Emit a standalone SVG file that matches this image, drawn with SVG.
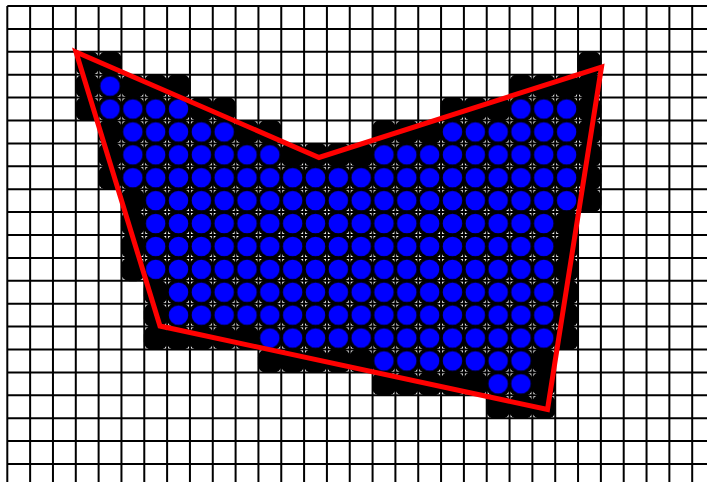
<svg xmlns="http://www.w3.org/2000/svg" xmlns:xlink="http://www.w3.org/1999/xlink" width="707" height="482" viewBox="0 0 707 482">
<style>
.grid{fill:none;stroke:#000;stroke-width:2;vector-effect:non-scaling-stroke}
.cell{fill:#000}
.hull{fill:none;stroke:#ff0000;stroke-width:5;stroke-linejoin:miter}
</style>
<defs>
<rect id="k" class="cell" x="-0.021" y="-0.021" width="1.042" height="1.042" rx="0.372" ry="0.372"/>
<pattern id="dots" patternUnits="userSpaceOnUse" x="0" y="0" width="1" height="1">
<circle cx="0.5" cy="0.5" r="0.452" fill="#0000ff" stroke="#000" stroke-width="0.05"/>
</pattern>
</defs>
<rect width="707" height="482" fill="#fff"/>
<g transform="translate(7.3,6) scale(22.83,22.9)">
<path id="grid" class="grid" d="M0 0V21M1 0V21M2 0V21M3 0V21M4 0V21M5 0V21M6 0V21M7 0V21M8 0V21M9 0V21M10 0V21M11 0V21M12 0V21M13 0V21M14 0V21M15 0V21M16 0V21M17 0V21M18 0V21M19 0V21M20 0V21M21 0V21M22 0V21M23 0V21M24 0V21M25 0V21M26 0V21M27 0V21M28 0V21M29 0V21M30 0V21M0 0H31M0 1H31M0 2H31M0 3H31M0 4H31M0 5H31M0 6H31M0 7H31M0 8H31M0 9H31M0 10H31M0 11H31M0 12H31M0 13H31M0 14H31M0 15H31M0 16H31M0 17H31M0 18H31M0 19H31M0 20H31"/>
<g id="cells">
<g transform="translate(0,2)"><use href="#k" x="3"/><use href="#k" x="4"/><use href="#k" x="25"/></g>
<g transform="translate(0,3)"><use href="#k" x="3"/><use href="#k" x="4"/><use href="#k" x="5"/><use href="#k" x="6"/><use href="#k" x="7"/><use href="#k" x="22"/><use href="#k" x="23"/><use href="#k" x="24"/><use href="#k" x="25"/></g>
<g transform="translate(0,4)"><use href="#k" x="3"/><use href="#k" x="4"/><use href="#k" x="5"/><use href="#k" x="6"/><use href="#k" x="7"/><use href="#k" x="8"/><use href="#k" x="9"/><use href="#k" x="19"/><use href="#k" x="20"/><use href="#k" x="21"/><use href="#k" x="22"/><use href="#k" x="23"/><use href="#k" x="24"/><use href="#k" x="25"/></g>
<g transform="translate(0,5)"><use href="#k" x="4"/><use href="#k" x="5"/><use href="#k" x="6"/><use href="#k" x="7"/><use href="#k" x="8"/><use href="#k" x="9"/><use href="#k" x="10"/><use href="#k" x="11"/><use href="#k" x="16"/><use href="#k" x="17"/><use href="#k" x="18"/><use href="#k" x="19"/><use href="#k" x="20"/><use href="#k" x="21"/><use href="#k" x="22"/><use href="#k" x="23"/><use href="#k" x="24"/><use href="#k" x="25"/></g>
<g transform="translate(0,6)"><use href="#k" x="4"/><use href="#k" x="5"/><use href="#k" x="6"/><use href="#k" x="7"/><use href="#k" x="8"/><use href="#k" x="9"/><use href="#k" x="10"/><use href="#k" x="11"/><use href="#k" x="12"/><use href="#k" x="13"/><use href="#k" x="14"/><use href="#k" x="15"/><use href="#k" x="16"/><use href="#k" x="17"/><use href="#k" x="18"/><use href="#k" x="19"/><use href="#k" x="20"/><use href="#k" x="21"/><use href="#k" x="22"/><use href="#k" x="23"/><use href="#k" x="24"/><use href="#k" x="25"/></g>
<g transform="translate(0,7)"><use href="#k" x="4"/><use href="#k" x="5"/><use href="#k" x="6"/><use href="#k" x="7"/><use href="#k" x="8"/><use href="#k" x="9"/><use href="#k" x="10"/><use href="#k" x="11"/><use href="#k" x="12"/><use href="#k" x="13"/><use href="#k" x="14"/><use href="#k" x="15"/><use href="#k" x="16"/><use href="#k" x="17"/><use href="#k" x="18"/><use href="#k" x="19"/><use href="#k" x="20"/><use href="#k" x="21"/><use href="#k" x="22"/><use href="#k" x="23"/><use href="#k" x="24"/><use href="#k" x="25"/></g>
<g transform="translate(0,8)"><use href="#k" x="5"/><use href="#k" x="6"/><use href="#k" x="7"/><use href="#k" x="8"/><use href="#k" x="9"/><use href="#k" x="10"/><use href="#k" x="11"/><use href="#k" x="12"/><use href="#k" x="13"/><use href="#k" x="14"/><use href="#k" x="15"/><use href="#k" x="16"/><use href="#k" x="17"/><use href="#k" x="18"/><use href="#k" x="19"/><use href="#k" x="20"/><use href="#k" x="21"/><use href="#k" x="22"/><use href="#k" x="23"/><use href="#k" x="24"/><use href="#k" x="25"/></g>
<g transform="translate(0,9)"><use href="#k" x="5"/><use href="#k" x="6"/><use href="#k" x="7"/><use href="#k" x="8"/><use href="#k" x="9"/><use href="#k" x="10"/><use href="#k" x="11"/><use href="#k" x="12"/><use href="#k" x="13"/><use href="#k" x="14"/><use href="#k" x="15"/><use href="#k" x="16"/><use href="#k" x="17"/><use href="#k" x="18"/><use href="#k" x="19"/><use href="#k" x="20"/><use href="#k" x="21"/><use href="#k" x="22"/><use href="#k" x="23"/><use href="#k" x="24"/></g>
<g transform="translate(0,10)"><use href="#k" x="5"/><use href="#k" x="6"/><use href="#k" x="7"/><use href="#k" x="8"/><use href="#k" x="9"/><use href="#k" x="10"/><use href="#k" x="11"/><use href="#k" x="12"/><use href="#k" x="13"/><use href="#k" x="14"/><use href="#k" x="15"/><use href="#k" x="16"/><use href="#k" x="17"/><use href="#k" x="18"/><use href="#k" x="19"/><use href="#k" x="20"/><use href="#k" x="21"/><use href="#k" x="22"/><use href="#k" x="23"/><use href="#k" x="24"/></g>
<g transform="translate(0,11)"><use href="#k" x="5"/><use href="#k" x="6"/><use href="#k" x="7"/><use href="#k" x="8"/><use href="#k" x="9"/><use href="#k" x="10"/><use href="#k" x="11"/><use href="#k" x="12"/><use href="#k" x="13"/><use href="#k" x="14"/><use href="#k" x="15"/><use href="#k" x="16"/><use href="#k" x="17"/><use href="#k" x="18"/><use href="#k" x="19"/><use href="#k" x="20"/><use href="#k" x="21"/><use href="#k" x="22"/><use href="#k" x="23"/><use href="#k" x="24"/></g>
<g transform="translate(0,12)"><use href="#k" x="6"/><use href="#k" x="7"/><use href="#k" x="8"/><use href="#k" x="9"/><use href="#k" x="10"/><use href="#k" x="11"/><use href="#k" x="12"/><use href="#k" x="13"/><use href="#k" x="14"/><use href="#k" x="15"/><use href="#k" x="16"/><use href="#k" x="17"/><use href="#k" x="18"/><use href="#k" x="19"/><use href="#k" x="20"/><use href="#k" x="21"/><use href="#k" x="22"/><use href="#k" x="23"/><use href="#k" x="24"/></g>
<g transform="translate(0,13)"><use href="#k" x="6"/><use href="#k" x="7"/><use href="#k" x="8"/><use href="#k" x="9"/><use href="#k" x="10"/><use href="#k" x="11"/><use href="#k" x="12"/><use href="#k" x="13"/><use href="#k" x="14"/><use href="#k" x="15"/><use href="#k" x="16"/><use href="#k" x="17"/><use href="#k" x="18"/><use href="#k" x="19"/><use href="#k" x="20"/><use href="#k" x="21"/><use href="#k" x="22"/><use href="#k" x="23"/><use href="#k" x="24"/></g>
<g transform="translate(0,14)"><use href="#k" x="6"/><use href="#k" x="7"/><use href="#k" x="8"/><use href="#k" x="9"/><use href="#k" x="10"/><use href="#k" x="11"/><use href="#k" x="12"/><use href="#k" x="13"/><use href="#k" x="14"/><use href="#k" x="15"/><use href="#k" x="16"/><use href="#k" x="17"/><use href="#k" x="18"/><use href="#k" x="19"/><use href="#k" x="20"/><use href="#k" x="21"/><use href="#k" x="22"/><use href="#k" x="23"/><use href="#k" x="24"/></g>
<g transform="translate(0,15)"><use href="#k" x="11"/><use href="#k" x="12"/><use href="#k" x="13"/><use href="#k" x="14"/><use href="#k" x="15"/><use href="#k" x="16"/><use href="#k" x="17"/><use href="#k" x="18"/><use href="#k" x="19"/><use href="#k" x="20"/><use href="#k" x="21"/><use href="#k" x="22"/><use href="#k" x="23"/></g>
<g transform="translate(0,16)"><use href="#k" x="16"/><use href="#k" x="17"/><use href="#k" x="18"/><use href="#k" x="19"/><use href="#k" x="20"/><use href="#k" x="21"/><use href="#k" x="22"/><use href="#k" x="23"/></g>
<g transform="translate(0,17)"><use href="#k" x="21"/><use href="#k" x="22"/><use href="#k" x="23"/></g>
</g>
<g id="points" fill="url(#dots)">
<rect x="4" y="3" width="1" height="1"/>
<rect x="4" y="4" width="4" height="1"/>
<rect x="22" y="4" width="3" height="1"/>
<rect x="5" y="5" width="5" height="1"/>
<rect x="19" y="5" width="6" height="1"/>
<rect x="5" y="6" width="7" height="1"/>
<rect x="16" y="6" width="9" height="1"/>
<rect x="5" y="7" width="20" height="1"/>
<rect x="6" y="8" width="19" height="1"/>
<rect x="6" y="9" width="18" height="3"/>
<rect x="7" y="12" width="17" height="2"/>
<rect x="11" y="14" width="13" height="1"/>
<rect x="16" y="15" width="7" height="1"/>
<rect x="21" y="16" width="2" height="1"/>
</g>
</g>
<g id="hull">
<polygon class="hull" points="76,52 319,157.5 601.5,67 547.5,409.5 160,326"/>
</g>
</svg>
